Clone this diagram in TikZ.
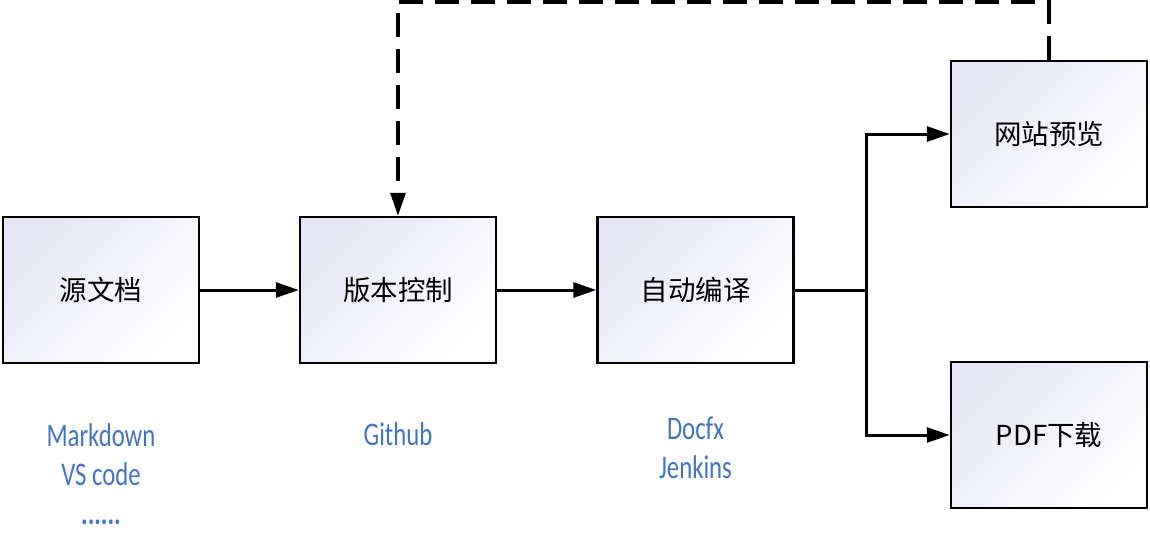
\documentclass[tikz,border=0pt]{standalone}
\usepackage{fontspec}
\newfontfamily\cjk{Noto Sans CJK SC}
\newfontfamily\lat[FakeStretch=0.75]{Carlito}
\usetikzlibrary{arrows.meta}
\definecolor{boxlav}{HTML}{E6E6F4}
\definecolor{toolblue}{HTML}{4472C4}
\tikzset{
    stage/.style={draw=black, line width=2.5pt, minimum width=196pt, minimum height=146pt,
        top color=boxlav, bottom color=white, shading angle=45,
        font=\cjk\fontsize{27.5}{32}\selectfont},
    tool/.style={text=toolblue, align=center, font=\lat\fontsize{33}{39}\selectfont},
    flow/.style={line width=3pt, -{Triangle[length=23pt,width=15pt]}},
    back/.style={line width=3.2pt, dash pattern=on 24pt off 12pt, -{Triangle[length=23pt,width=15pt]}},
}
\begin{document}
\begin{tikzpicture}[x=1pt, y=-1pt]
    \useasboundingbox (0,0) rectangle (1150,547);

    \node[stage] (src) at (101,290) {源文档};
    \node[stage] (vcs) at (398,290) {版本控制};
    \node[stage] (build) at (695.5,290) {自动编译};
    \node[stage] (web) at (1049,134) {网站预览};
    \node[stage] (pdf) at (1049,435) {PDF下载};

    \node[tool] (srctool) at (101,474) {Markdown\\VS code\\\textbf{......}};
    \node[tool] (vcstool) at (398,434) {Github};
    \node[tool] (buildtool) at (695.5,448) {Docfx\\Jenkins};

    \coordinate (split) at (866,290);

    \draw[flow] (src) -- (vcs);
    \draw[flow] (vcs) -- (build);
    \draw[line width=3pt] (build) -- (split);
    \draw[flow] (split) |- (web);
    \draw[flow] (split) |- (pdf);

    % feedback from the preview back to version control
    \draw[back] (web.north) -- (1049,2) -| (vcs.north);
\end{tikzpicture}
\end{document}
